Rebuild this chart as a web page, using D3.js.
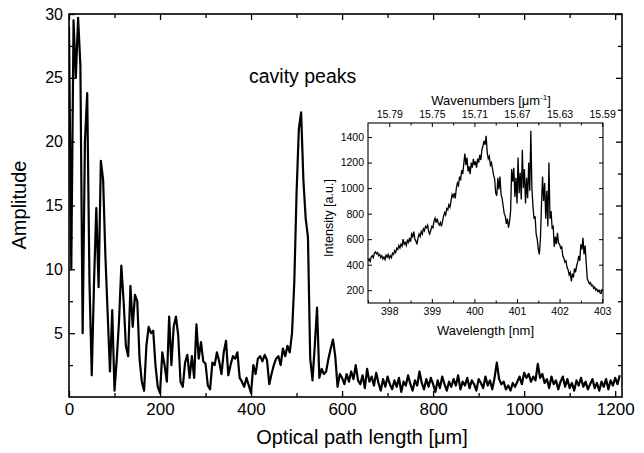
<!DOCTYPE html>
<html>
<head>
<meta charset="utf-8">
<script src="https://cdn.jsdelivr.net/npm/d3@7"></script>
<style>
  body { margin: 0; background: #fff; }
  svg { font-family: "Liberation Sans", Arial, Helvetica, sans-serif; }
  .tick line { stroke: #000; }
</style>
</head>
<body>
<svg id="chart" width="644" height="453"></svg>
<script>
'use strict';

// main trace: amplitude sampled every pathStep micrometres from 0
var pathStep = 5;
var amplitude = [
    29, 10, 29.5, 25, 29.7, 26, 5, 20, 23.8, 9,
    1.7, 9, 14.8, 8.6, 18.5, 17, 11, 6.5, 2, 6.8,
    0.5, 3, 6, 10.3, 7.5, 4, 3.2, 8.7, 5.5, 8,
    7.5, 3, 1.2, 0.5, 4, 5.5, 5, 5.2, 2.5, 0.8,
    0.3, 3.5, 2.5, 1.2, 6.3, 2.5, 5.5, 6.3, 4.8, 1.2,
    0.8, 2.7, 3.3, 1.5, 3.2, 1.5, 5.7, 3, 4.3, 2.8,
    2.6, 0.9, 0.6, 2.7, 2.5, 3.5, 2.8, 1.8, 3.5, 4.4,
    1.7, 2.5, 3.2, 3.0, 3.5, 1.5, 1.2, 0.8, 1.5, 0.9,
    0.3, 2.5, 1.8, 3.0, 3.2, 2.8, 3.3, 2.9, 1.0, 1.8,
    2.5, 3.0, 3.2, 2.5, 3.8, 3.2, 4.0, 3.5, 5, 9,
    16, 21, 22.3, 17, 14, 12.5, 3, 1.3, 4, 7,
    1.5, 2.2, 1.8, 2.0, 3.0, 3.8, 4.5, 3.2, 0.8, 1.8,
    1.5, 1.0, 1.8, 1.2, 2.0, 1.4, 2.5, 1.3, 1.0, 1.7,
    0.7, 2.2, 1.2, 1.6, 0.9, 1.9, 1.1, 0.5, 1.4, 0.8,
    1.6, 1.0, 0.6, 1.3, 0.8, 1.5, 0.4, 1.2, 0.9, 1.7,
    1.0, 0.5, 1.3, 0.9, 2.0, 1.1, 0.6, 1.4, 0.8, 1.5,
    1.0, 0.4, 1.3, 0.7, 1.6, 1.0, 0.5, 1.2, 0.8, 1.4,
    0.9, 1.7, 0.6, 1.2, 0.9, 1.5, 0.7, 1.3, 1.0, 0.5,
    1.4, 1.1, 0.7, 1.6, 0.9, 1.3, 0.6, 1.5, 2.7, 1.4,
    1.0, 1.2, 0.6, 0.9, 0.5, 1.1, 0.8, 1.2, 1.6, 1.0,
    1.9, 1.5, 1.8, 1.2, 1.6, 1.3, 2.6, 1.5, 1.8, 1.1,
    1.4, 0.7, 1.6, 1.0, 1.3, 0.6, 1.2, 1.6, 0.8, 1.4,
    0.7, 1.1, 0.5, 1.3, 0.9, 1.5, 0.8, 1.2, 0.6, 1.0,
    1.4, 0.7, 1.1, 0.5, 1.2, 0.8, 1.4, 0.6, 1.3, 0.9,
    1.5, 1.0, 1.7
];
var mainXTicks = [0, 200, 400, 600, 800, 1000, 1200];
var mainYTicks = [5, 10, 15, 20, 25, 30];

// inset spectrum: intensity every specStep nm from specStart
var specStart = 397.5;
var specStep = 0.025;
var intensity = [
    430, 445, 425, 460, 470, 455, 490, 500, 485, 495,
    470, 480, 455, 470, 445, 460, 440, 475, 460, 480,
    450, 470, 455, 490, 480, 510, 495, 530, 520, 550,
    530, 560, 545, 600, 560, 575, 550, 590, 575, 610,
    580, 640, 620, 660, 600, 585, 560, 610, 640, 620,
    660, 640, 680, 665, 700, 690, 710, 660, 640, 670,
    700, 690, 740, 765, 730, 760, 725, 710, 730, 700,
    740, 780, 810, 790, 840, 830, 870, 850, 900, 950,
    930, 960, 920, 1000, 1040, 1020, 1090, 1060, 1140, 1110,
    1190, 1270, 1180, 1240, 1130, 1170, 1110, 1200, 1160, 1230,
    1180, 1210, 1160, 1230, 1200, 1260, 1220, 1300, 1330, 1370,
    1340, 1410, 1280, 1230, 1250, 1180, 1200, 1150, 1100, 1070,
    960, 940, 1080, 990, 1090, 950, 920, 860, 800, 780,
    720, 760, 690, 740, 820, 1150, 1050, 1160, 930, 1080,
    880, 1240, 960, 1120, 910, 1300, 1000, 1150, 880, 1080,
    920, 1200, 980, 1450, 1000, 860, 760, 780, 640, 600,
    520, 480, 600, 870, 1090, 900, 1040, 760, 980, 700,
    1200, 760, 820, 690, 700, 540, 620, 560, 650, 570,
    560, 530, 540, 470, 450, 420, 430, 380, 360, 320,
    340, 270, 330, 300, 370, 340, 390, 420, 470, 430,
    560, 520, 610, 480, 550, 420, 290, 270, 250, 260,
    235, 240, 215, 225, 200, 210, 190, 200, 180, 175,
    210
];
var wavelengthTicks = [398, 399, 400, 401, 402, 403];
var wavenumberTicks = [15.79, 15.75, 15.71, 15.67, 15.63, 15.59];
var intensityTicks = [200, 400, 600, 800, 1000, 1200, 1400];

var svg = d3.select('#chart');

function midpoints(ticks) {
    var out = [];
    for (var i = 0; i < ticks.length - 1; i++) {
        out.push((ticks[i] + ticks[i + 1]) / 2);
    }
    return out;
}

function drawAxis(g, axis, ticks, size, labels, fmt) {
    var a = axis.tickValues(ticks).tickSize(-size).tickPadding(4);
    a.tickFormat(labels ? fmt : function() { return ''; });
    g.call(a);
    g.select('.domain').remove();
    return g;
}

// ---- main plot ----
var m = {left: 69, right: 622, top: 14, bottom: 397};
var x = d3.scaleLinear().domain([0, 1215]).range([m.left, m.right]);
var y = d3.scaleLinear().domain([0, 30]).range([m.bottom, m.top]);

svg.append('clipPath').attr('id', 'clipMain')
    .append('rect')
    .attr('x', m.left).attr('y', m.top)
    .attr('width', m.right - m.left).attr('height', m.bottom - m.top);

var line = d3.line()
    .x(function(d, i) { return x(i * pathStep); })
    .y(function(d) { return y(d); });

svg.append('path')
    .datum(amplitude)
    .attr('clip-path', 'url(#clipMain)')
    .attr('fill', 'none')
    .attr('stroke', '#000')
    .attr('stroke-width', 2.2)
    .attr('stroke-linejoin', 'round')
    .attr('d', line);

var fmtInt = d3.format('d');
var gx = svg.append('g').attr('transform', 'translate(0,' + m.bottom + ')');
drawAxis(gx, d3.axisBottom(x), mainXTicks, 6, true, fmtInt)
    .selectAll('text').attr('font-size', 17).attr('dy', '0.85em');
drawAxis(svg.append('g').attr('transform', 'translate(0,' + m.bottom + ')'),
    d3.axisBottom(x), midpoints(mainXTicks), 4, false);
drawAxis(svg.append('g').attr('transform', 'translate(0,' + m.top + ')'),
    d3.axisTop(x), mainXTicks, 6, false);
drawAxis(svg.append('g').attr('transform', 'translate(0,' + m.top + ')'),
    d3.axisTop(x), midpoints(mainXTicks), 4, false);

var gy = svg.append('g').attr('transform', 'translate(' + m.left + ',0)');
drawAxis(gy, d3.axisLeft(y), mainYTicks, 6, true, fmtInt)
    .selectAll('text').attr('font-size', 16).attr('dx', '-2');
drawAxis(svg.append('g').attr('transform', 'translate(' + m.left + ',0)'),
    d3.axisLeft(y), [2.5].concat(midpoints(mainYTicks)), 4, false);
drawAxis(svg.append('g').attr('transform', 'translate(' + m.right + ',0)'),
    d3.axisRight(y), mainYTicks, 6, false);
drawAxis(svg.append('g').attr('transform', 'translate(' + m.right + ',0)'),
    d3.axisRight(y), [2.5].concat(midpoints(mainYTicks)), 4, false);

svg.selectAll('.tick line').attr('stroke-width', 1.3);

svg.append('rect')
    .attr('x', m.left).attr('y', m.top)
    .attr('width', m.right - m.left).attr('height', m.bottom - m.top)
    .attr('fill', 'none').attr('stroke', '#000').attr('stroke-width', 1.6);

svg.append('text')
    .attr('x', 362).attr('y', 444)
    .attr('text-anchor', 'middle').attr('font-size', 20)
    .text('Optical path length [\u03bcm]');

svg.append('text')
    .attr('transform', 'translate(26,205) rotate(-90)')
    .attr('text-anchor', 'middle').attr('font-size', 20)
    .text('Amplitude');

svg.append('text')
    .attr('x', 249).attr('y', 83).attr('font-size', 19.5)
    .text('cavity peaks');

// ---- inset spectrum ----
var n = {left: 368, right: 603, top: 123, bottom: 303};
var xi = d3.scaleLinear().domain([397.5, 403.02]).range([n.left, n.right]);
var yi = d3.scaleLinear().domain([100, 1510]).range([n.bottom, n.top]);
var xw = d3.scaleLinear()
    .domain([wavenumberTicks[0], wavenumberTicks[wavenumberTicks.length - 1]])
    .range([xi(wavelengthTicks[0]), xi(wavelengthTicks[wavelengthTicks.length - 1])]);

svg.append('rect')
    .attr('x', n.left).attr('y', n.top)
    .attr('width', n.right - n.left).attr('height', n.bottom - n.top)
    .attr('fill', '#fff');

svg.append('clipPath').attr('id', 'clipInset')
    .append('rect')
    .attr('x', n.left).attr('y', n.top)
    .attr('width', n.right - n.left).attr('height', n.bottom - n.top);

var specLine = d3.line()
    .x(function(d, i) { return xi(specStart + i * specStep); })
    .y(function(d) { return yi(d); });

svg.append('path')
    .datum(intensity)
    .attr('clip-path', 'url(#clipInset)')
    .attr('fill', 'none')
    .attr('stroke', '#000')
    .attr('stroke-width', 1.3)
    .attr('d', specLine);

var inset = svg.append('g').attr('class', 'inset');
var fmt2 = d3.format('.2f');

var bi = inset.append('g').attr('transform', 'translate(0,' + n.bottom + ')');
drawAxis(bi, d3.axisBottom(xi), wavelengthTicks, 4, true, fmtInt)
    .selectAll('text').attr('font-size', 10.5).attr('dy', '0.8em');
drawAxis(inset.append('g').attr('transform', 'translate(0,' + n.bottom + ')'),
    d3.axisBottom(xi), [397.5].concat(midpoints(wavelengthTicks)), 2.5, false);

var ti = inset.append('g').attr('transform', 'translate(0,' + n.top + ')');
drawAxis(ti, d3.axisTop(xw), wavenumberTicks, 4, true, fmt2)
    .selectAll('text').attr('font-size', 10.5).attr('dy', '-0.1em');
drawAxis(inset.append('g').attr('transform', 'translate(0,' + n.top + ')'),
    d3.axisTop(xw), midpoints(wavenumberTicks), 2.5, false);

var li = inset.append('g').attr('transform', 'translate(' + n.left + ',0)');
drawAxis(li, d3.axisLeft(yi), intensityTicks, 4, true, fmtInt)
    .selectAll('text').attr('font-size', 10.5);
drawAxis(inset.append('g').attr('transform', 'translate(' + n.right + ',0)'),
    d3.axisRight(yi), intensityTicks, 4, false);

inset.selectAll('.tick line').attr('stroke-width', 1);

inset.append('rect')
    .attr('x', n.left).attr('y', n.top)
    .attr('width', n.right - n.left).attr('height', n.bottom - n.top)
    .attr('fill', 'none').attr('stroke', '#000').attr('stroke-width', 1.1);

inset.append('text')
    .attr('x', (n.left + n.right) / 2).attr('y', 335)
    .attr('text-anchor', 'middle').attr('font-size', 13)
    .text('Wavelength [nm]');

var wt = inset.append('text')
    .attr('x', 491).attr('y', 105)
    .attr('text-anchor', 'middle').attr('font-size', 13);
wt.append('tspan').text('Wavenumbers [\u03bcm');
wt.append('tspan').attr('font-size', 8).attr('dy', -5).text('-1');
wt.append('tspan').attr('dy', 5).text(']');

inset.append('text')
    .attr('transform', 'translate(333,218) rotate(-90)')
    .attr('text-anchor', 'middle').attr('font-size', 12.5)
    .text('Intensity [a.u.]');
</script>
</body>
</html>
